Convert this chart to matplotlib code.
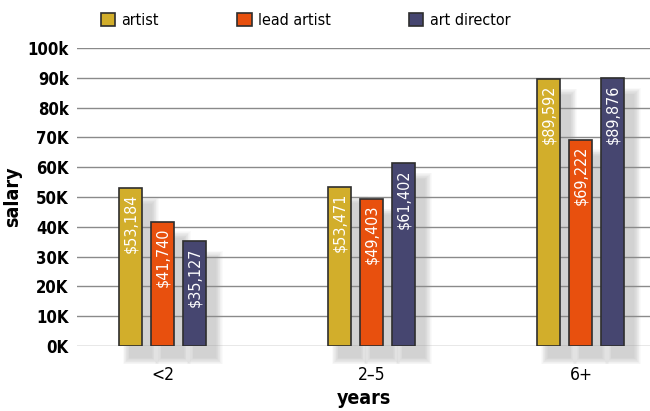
import matplotlib
matplotlib.use('Agg')
import matplotlib.pyplot as plt
from matplotlib.patches import Rectangle
import numpy as np

groups = ['<2', '2\u20135', '6+']
series = ['artist', 'lead artist', 'art director']
artist = [53184, 53471, 89592]
lead_artist = [41740, 49403, 69222]
art_director = [35127, 61402, 89876]
tick_vals = [0, 10000, 20000, 30000, 40000, 50000, 60000, 70000, 80000, 90000, 100000]
tick_text = ['0K', '10K', '20K', '30K', '40K', '50K', '60K', '70K', '80k', '90k', '100k']

colors = ['#d2ae2b', '#e8500e', '#464670']
edge = '#2e2e2e'
plt.rcParams['font.family'] = ['DejaVu Sans']
plt.rcParams['font.stretch'] = 'condensed'

fig = plt.figure(figsize=(6.5, 4.11), dpi=100)
ax = fig.add_axes([0.1185, 0.158, 0.8815, 0.725])

x = np.arange(len(groups))
width = 0.11
step = 0.153
# data units per pixel, used for the drop shadows
px_x = 1 / 209.0
px_y = 100000 / 298.0

for i, (vals, col, name) in enumerate(zip([artist, lead_artist, art_director], colors, series)):
    xs = x + (i - 1) * step
    for xc, v in zip(xs, vals):
        # soft shadow: many faint rectangles shrinking towards the core
        for k in range(10):
            grow = (9 - k) * 0.7
            ax.add_patch(Rectangle((xc - width / 2 + (10 - grow) * px_x, -12 * px_y - grow * px_y),
                                   width + 2 * grow * px_x, v - 4 * px_y + 2 * grow * px_y,
                                   facecolor='#8c8c8c', edgecolor='none', alpha=0.045,
                                   zorder=1.5, clip_on=False))
        ax.text(xc, v - 6 * px_y, '${:,}'.format(v), rotation=90, ha='center', va='top',
                color='white', fontsize=11.5, zorder=4)
    ax.bar(xs, vals, width, color=col, edgecolor=edge, linewidth=1.2, label=name, zorder=3)

ax.set_ylim(0, 100000)
ax.set_xlim(-0.41, 2.33)
ax.set_yticks(tick_vals)
ax.set_yticklabels(tick_text, fontsize=12, fontweight='bold')
ax.set_xticks(x)
ax.set_xticklabels(groups, fontsize=12.5)
ax.tick_params(axis='both', length=0)
ax.tick_params(axis='y', pad=6)
ax.tick_params(axis='x', pad=14)
for yv in tick_vals:
    ax.axhline(yv, color='#8a8a8a', linewidth=1.0, zorder=1)
for s in ax.spines.values():
    s.set_visible(False)

ax.set_ylabel('salary', fontsize=14, fontweight='bold', labelpad=4)
ax.set_xlabel('years', fontsize=14, fontweight='bold', labelpad=4)

leg = ax.legend(ncol=3, loc='lower left', bbox_to_anchor=(0.03, 1.045), frameon=False,
                fontsize=11.5, handlelength=0.9, handleheight=0.9, handletextpad=0.4,
                columnspacing=4.9, borderaxespad=0)

fig.savefig('out.png', dpi=100)
